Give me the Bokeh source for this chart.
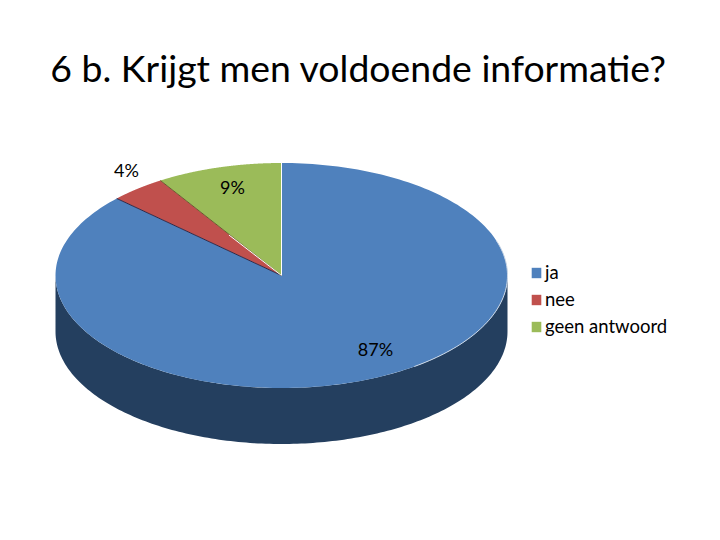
import numpy as np
from bokeh.plotting import figure
from bokeh.embed import file_html
from bokeh.resources import INLINE
from bokeh.models import Legend, LegendItem, Range1d
from bokeh.core.properties import value

TITLE = "6 b. Krijgt men voldoende informatie?"
categories = ["ja", "nee", "geen antwoord"]
values = [87, 4, 9]
labels = ["87%", "4%", "9%"]
colors = ["#4F81BD", "#C0504D", "#9BBB59"]
side_color = "#243F5F"
FONT = "Lato"

W, H = 704, 524
p = figure(width=W, height=H, output_backend="svg", toolbar_location=None,
           x_range=Range1d(0, W), y_range=Range1d(H, 0),
           min_border=0, outline_line_color=None, background_fill_color="white")
p.axis.visible = False
p.grid.visible = False

cx, cy, rx, ry, depth = 281.0, 275.0, 226.0, 112.5, 56.0

def pt(t):
    # t: fraction of the pie, clockwise from 12 o'clock
    a = 2 * np.pi * np.asarray(t)
    return cx + rx * np.sin(a), cy - ry * np.cos(a)

# visible side wall (front half of the rim)
ts = np.linspace(0.25, 0.75, 181)
sx, sy = pt(ts)
p.patch(np.r_[sx, sx[::-1]], np.r_[sy + depth, sy[::-1]], fill_color=side_color, line_color=None)

# pie top
frac = np.cumsum([0] + values) / sum(values)
rends = []
for i, c in enumerate(colors):
    ts = np.linspace(frac[i], frac[i + 1], 240)
    x, y = pt(ts)
    r = p.patch(np.r_[cx, x], np.r_[cy, y], fill_color=c, line_color=None)
    rends.append(r)

# light rim on the right-front edge and slice separators
ts = np.linspace(0.20, 0.40, 60)
x, y = pt(ts)
p.line(x, y, line_color="#C9D6E6", line_width=1)
seam = ["#FFFFFF", "#2F2A4A", "#6B5A30"]
for i, c in enumerate(seam):
    x, y = pt(frac[i])
    p.line([cx, x], [cy, y], line_color=c, line_width=1)
x, y = pt(frac[2])
p.line([cx, (cx + x) / 2 + 8], [cy, (cy + y) / 2 + 7], line_color="#FFFFFF", line_width=1)

# slice labels
p.text([375, 126, 232], [348, 169, 186], text=labels, text_font=value(FONT), text_font_size="18px",
       text_color="black", text_align="center", text_baseline="middle")

# title
p.text([358], [66.5], text=[TITLE], text_font=value(FONT), text_font_size="37.4px",
       text_color="black", text_align="center", text_baseline="middle")

legend = Legend(items=[LegendItem(label=c, renderers=[r]) for c, r in zip(categories, rends)],
                location=(530, 187), orientation="vertical", glyph_width=12, glyph_height=13,
                label_standoff=3, spacing=5, padding=0, margin=0,
                border_line_color=None, background_fill_alpha=0,
                label_text_font=FONT, label_text_font_size="18.5px", label_text_color="black",
                label_height=14)
p.add_layout(legend, "center")

open("out.html", "w").write(file_html(p, INLINE))
